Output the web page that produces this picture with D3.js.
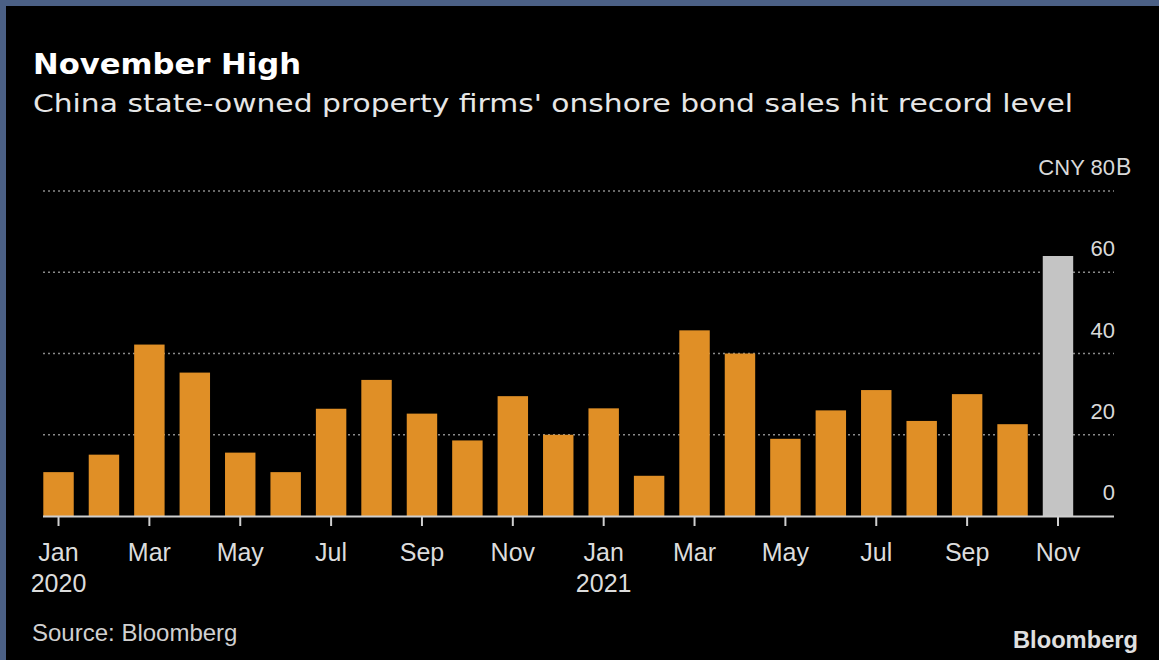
<!DOCTYPE html>
<html>
<head>
<meta charset="utf-8">
<script src="https://cdn.jsdelivr.net/npm/d3@7"></script>
<style>
  html, body { margin: 0; padding: 0; background: #000; }
  svg { display: block; }
</style>
</head>
<body>
<svg id="chart" width="1159" height="660"></svg>
<script>
// Monthly onshore bond sales by China state-owned property firms (CNY billions)
const months = ["2020-01","2020-02","2020-03","2020-04","2020-05","2020-06",
                "2020-07","2020-08","2020-09","2020-10","2020-11","2020-12",
                "2021-01","2021-02","2021-03","2021-04","2021-05","2021-06",
                "2021-07","2021-08","2021-09","2021-10","2021-11"];
const sales = [10.8, 15.1, 42.2, 35.3, 15.6, 10.8, 26.4, 33.5, 25.2, 18.6, 29.5, 20.0,
               26.5, 9.9, 45.7, 40.0, 19.0, 26.0, 31.0, 23.4, 30.0, 22.6, 64.0];
const highlightMonth = "2021-11";
const yTicks = [0, 20, 40, 60, 80];
const monthNames = ["Jan","Feb","Mar","Apr","May","Jun","Jul","Aug","Sep","Oct","Nov","Dec"];

const svg = d3.select("#chart");
const W = 1159, H = 660;

// frame
svg.append("rect").attr("x", 0).attr("y", 0).attr("width", W).attr("height", H).attr("fill", "#4b6085");
svg.append("rect").attr("x", 6).attr("y", 6).attr("width", W - 6).attr("height", H - 6).attr("fill", "#000");

const plot = { left: 43, right: 1114, top: 191, bottom: 516 };

const x = d3.scaleBand().domain(months).range([43.3, 1073.2]).paddingInner(0.33).paddingOuter(0);
const y = d3.scaleLinear().domain([0, 80]).range([plot.bottom, plot.top]);

// titles
svg.append("text").attr("x", 33).attr("y", 74)
  .attr("font-family", "DejaVu Sans").attr("font-weight", "bold").attr("font-size", 29)
  .attr("fill", "#fff").attr("textLength", 268).attr("lengthAdjust", "spacingAndGlyphs")
  .text("November High");
svg.append("text").attr("x", 33).attr("y", 112)
  .attr("font-family", "DejaVu Sans").attr("font-size", 25)
  .attr("fill", "#e6e6e6").attr("textLength", 1040).attr("lengthAdjust", "spacingAndGlyphs")
  .text("China state-owned property firms' onshore bond sales hit record level");

// gridlines
svg.append("g").selectAll("line").data(yTicks.filter(d => d > 0)).join("line")
  .attr("x1", plot.left).attr("x2", plot.right)
  .attr("y1", d => y(d)).attr("y2", d => y(d))
  .attr("stroke", "#8a8a8a").attr("stroke-width", 1.5).attr("stroke-dasharray", "2,3");

// right-side value labels
const yLab = svg.append("g")
  .attr("font-family", "Liberation Sans, Arial, sans-serif").attr("font-size", 22).attr("fill", "#d9d9d9");
yLab.selectAll("text").data(yTicks).join("text")
  .attr("x", 1115).attr("y", d => y(d) - 16).attr("text-anchor", "end")
  .text(d => d === 80 ? "CNY " + d : d);
yLab.append("text").attr("x", 1116).attr("y", y(80) - 16).attr("text-anchor", "start")
  .attr("font-size", 23).text("B");

// bars
svg.append("g").selectAll("rect").data(months).join("rect")
  .attr("x", d => x(d)).attr("width", x.bandwidth())
  .attr("y", (d, i) => y(sales[i])).attr("height", (d, i) => y(0) - y(sales[i]))
  .attr("fill", d => d === highlightMonth ? "#c4c4c4" : "#e08f26");

// x axis
svg.append("line").attr("x1", plot.left).attr("x2", plot.right)
  .attr("y1", plot.bottom + 0.5).attr("y2", plot.bottom + 0.5)
  .attr("stroke", "#cfcfcf").attr("stroke-width", 2);

const tickMonths = months.filter((d, i) => i % 2 === 0);
const xAxis = d3.axisBottom(x).tickValues(tickMonths).tickSize(10).tickPadding(8)
  .tickFormat(d => monthNames[+d.slice(5) - 1]);
const gx = svg.append("g").attr("transform", `translate(0,${plot.bottom})`).call(xAxis);
gx.select(".domain").remove();
gx.selectAll(".tick line").attr("stroke", "#cfcfcf").attr("stroke-width", 2);
gx.selectAll(".tick text")
  .attr("font-family", "Liberation Sans, Arial, sans-serif").attr("font-size", 25)
  .attr("fill", "#dcdcdc").attr("dy", "0.71em").attr("y", 27);
gx.selectAll(".tick").filter(d => d.endsWith("-01")).append("text")
  .attr("y", 76).attr("text-anchor", "middle")
  .attr("font-family", "Liberation Sans, Arial, sans-serif").attr("font-size", 25)
  .attr("fill", "#dcdcdc").text(d => d.slice(0, 4));

// footer
svg.append("text").attr("x", 32).attr("y", 641)
  .attr("font-family", "Liberation Sans, Arial, sans-serif").attr("font-size", 24)
  .attr("fill", "#d0d0d0").text("Source: Bloomberg");
svg.append("text").attr("x", 1138).attr("y", 648).attr("text-anchor", "end")
  .attr("font-family", "Liberation Sans, Arial, sans-serif").attr("font-weight", "bold").attr("font-size", 23)
  .attr("fill", "#e0e0e0").attr("textLength", 125).attr("lengthAdjust", "spacingAndGlyphs")
  .text("Bloomberg");
</script>
</body>
</html>
